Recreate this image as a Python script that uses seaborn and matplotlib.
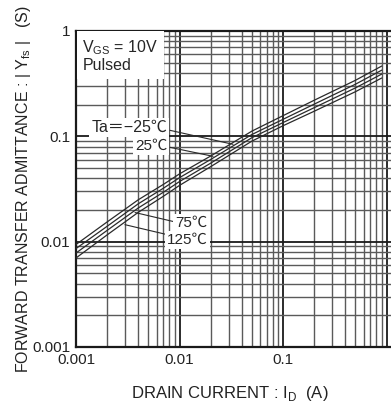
import numpy as np
import pandas as pd
import matplotlib
matplotlib.use("Agg")
import matplotlib.pyplot as plt
import seaborn as sns
from matplotlib.ticker import LogLocator, NullFormatter, FixedLocator

# ---- data ----
drain_current = [0.001, 0.002, 0.004, 0.007, 0.01, 0.02, 0.05, 0.1, 0.2, 0.5, 0.9]
yfs_m25 = [0.0094, 0.0154, 0.0250, 0.0350, 0.0440, 0.0650, 0.112, 0.157, 0.220, 0.340, 0.465]
yfs_25 = [0.0086, 0.0140, 0.0229, 0.0322, 0.0405, 0.0603, 0.104, 0.145, 0.202, 0.312, 0.425]
yfs_75 = [0.0078, 0.0128, 0.0209, 0.0295, 0.0372, 0.0556, 0.097, 0.135, 0.187, 0.288, 0.390]
yfs_125 = [0.0070, 0.0116, 0.0190, 0.0270, 0.0342, 0.0515, 0.090, 0.126, 0.173, 0.265, 0.358]
temps = ["-25", "25", "75", "125"]
x_ticks = [0.001, 0.01, 0.1]
x_tick_labels = ["0.001", "0.01", "0.1"]
y_ticks = [0.001, 0.01, 0.1, 1]
y_tick_labels = ["0.001", "0.01", "0.1", "1"]

rows = []
for t, ys in zip(temps, [yfs_m25, yfs_25, yfs_75, yfs_125]):
    for x, y in zip(drain_current, ys):
        rows.append({"Id": x, "Yfs": y, "Ta": t})
df = pd.DataFrame(rows)

sns.set_style("white")
plt.rcParams['font.family'] = ['Liberation Sans', 'DejaVu Sans']
plt.rcParams['mathtext.fontset'] = 'custom'
plt.rcParams['mathtext.rm'] = 'Liberation Sans'

fig = plt.figure(figsize=(3.91, 4.04), dpi=100)
ax = fig.add_axes([76/391, 57/404, 315/391, 316/404])

ax.set_xscale("log")
ax.set_yscale("log")
ax.set_xlim(0.001, 10**((391-76)/103.5 - 3))
ax.set_ylim(0.001, 1.0)

# grid
ax.xaxis.set_major_locator(FixedLocator(x_ticks + [1.0]))
ax.yaxis.set_major_locator(FixedLocator(y_ticks))
ax.xaxis.set_minor_locator(LogLocator(base=10, subs=np.arange(2, 10)))
ax.yaxis.set_minor_locator(LogLocator(base=10, subs=np.arange(2, 10)))
ax.xaxis.set_minor_formatter(NullFormatter())
ax.yaxis.set_minor_formatter(NullFormatter())
ax.grid(True, which="major", color="#1a1a1a", lw=1.3, zorder=0)
ax.grid(True, which="minor", color="#5a5a5a", lw=1.0, zorder=0)
ax.set_axisbelow(True)

sns.lineplot(data=df, x="Id", y="Yfs", hue="Ta", palette=["#2a2a2a"] * 4,
             lw=0.9, legend=False, ax=ax, zorder=3)

ax.set_xticks(x_ticks + [1.0])
ax.set_xticklabels(x_tick_labels + [""])
ax.set_yticks(y_ticks)
ax.set_yticklabels(y_tick_labels)
ax.tick_params(axis="both", length=0, labelsize=11, colors="#222222", pad=4)

for s in ["left", "bottom", "top"]:
    ax.spines[s].set_color("#1a1a1a")
    ax.spines[s].set_linewidth(1.6)
ax.spines["right"].set_visible(False)

ax.set_xlabel(r"DRAIN CURRENT : I$_{\rm D}$  (A)", fontsize=12, color="#222222")
ax.xaxis.set_label_coords(0.489, -0.118)
ax.set_ylabel(r"FORWARD TRANSFER ADMITTANCE : | Y$_{\rm fs}$ |   (S)", fontsize=11.5,
              color="#222222")
ax.yaxis.set_label_coords(-0.137, 0.5)

jp = ['Liberation Sans', 'Noto Sans CJK JP']
white = dict(facecolor="white", edgecolor="none", pad=1.5)
ax.text(0.00115, 0.58, "V$_{\\rm GS}$ = 10V\nPulsed", fontsize=11.5, va="center", ha="left",
        linespacing=1.05,
        bbox=dict(facecolor="white", edgecolor="none", boxstyle="square,pad=0.35"), zorder=5)

ax.text(0.0076, 0.122, "Ta＝−25℃", fontsize=11.5, ha="right", va="center",
        family=jp, bbox=white, zorder=5)
ax.text(0.0076, 0.082, "25℃", fontsize=11, ha="right", va="center",
        family=jp, bbox=white, zorder=5)
ax.text(0.0090, 0.0150, "75℃", fontsize=11, ha="left", va="center",
        family=jp, bbox=white, zorder=5)
ax.text(0.0076, 0.0104, "125℃", fontsize=11, ha="left", va="center",
        family=jp, bbox=white, zorder=5)

lk = dict(color="#2a2a2a", lw=0.8, zorder=4)
ax.plot([0.0081, 0.0329], [0.114, 0.084], **lk)
ax.plot([0.0081, 0.0211], [0.0786, 0.0646], **lk)
ax.plot([0.0088, 0.00372], [0.0155, 0.0189], **lk)
ax.plot([0.0075, 0.00297], [0.0117, 0.0145], **lk)

fig.savefig("out.png", dpi=100, facecolor="white")
